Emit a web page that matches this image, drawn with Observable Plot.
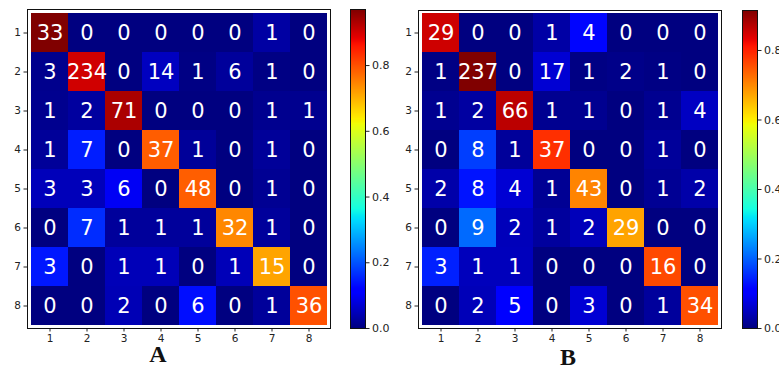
<!DOCTYPE html>
<html>
<head>
<meta charset="utf-8">
<script src="https://cdn.jsdelivr.net/npm/d3@7"></script>
<script src="https://cdn.jsdelivr.net/npm/@observablehq/plot@0.6"></script>
<style>
  html, body { margin: 0; padding: 0; background: #fff; overflow: hidden; }
  #root { position: relative; width: 779px; height: 373px; overflow: hidden; background: #fff; }
  .panel { position: absolute; top: 0; }
  .panel svg { max-width: none !important; }
  .tag { position: absolute; font-family: "Liberation Serif", "DejaVu Serif", serif; font-weight: bold; font-size: 24px; line-height: 24px; color: #111; transform: translateX(-50%); }
</style>
</head>
<body>
<div id="root"></div>
<script>
const labels = [1, 2, 3, 4, 5, 6, 7, 8];
const colorbarTicks = [0, 0.2, 0.4, 0.6, 0.8];
const panelTags = ["A", "B"];

const countsA = [
  [33, 0, 0, 0, 0, 0, 1, 0],
  [3, 234, 0, 14, 1, 6, 1, 0],
  [1, 2, 71, 0, 0, 0, 1, 1],
  [1, 7, 0, 37, 1, 0, 1, 0],
  [3, 3, 6, 0, 48, 0, 1, 0],
  [0, 7, 1, 1, 1, 32, 1, 0],
  [3, 0, 1, 1, 0, 1, 15, 0],
  [0, 0, 2, 0, 6, 0, 1, 36]
];
const countsB = [
  [29, 0, 0, 1, 4, 0, 0, 0],
  [1, 237, 0, 17, 1, 2, 1, 0],
  [1, 2, 66, 1, 1, 0, 1, 4],
  [0, 8, 1, 37, 0, 0, 1, 0],
  [2, 8, 4, 1, 43, 0, 1, 2],
  [0, 9, 2, 1, 2, 29, 0, 0],
  [3, 1, 1, 0, 0, 0, 16, 0],
  [0, 2, 5, 0, 3, 0, 1, 34]
];

// matplotlib "jet" colormap
function seg(t, pts) {
  for (let i = 1; i < pts.length; i++) {
    if (t <= pts[i][0]) {
      const [t0, v0] = pts[i - 1], [t1, v1] = pts[i];
      return v0 + (v1 - v0) * (t - t0) / (t1 - t0);
    }
  }
  return pts[pts.length - 1][1];
}
function jet(t) {
  t = Math.max(0, Math.min(1, t));
  const r = seg(t, [[0, 0], [0.35, 0], [0.66, 1], [0.89, 1], [1, 0.5]]);
  const g = seg(t, [[0, 0], [0.125, 0], [0.375, 1], [0.64, 1], [0.91, 0], [1, 0]]);
  const b = seg(t, [[0, 0.5], [0.11, 1], [0.34, 1], [0.65, 0], [1, 0]]);
  return `rgb(${Math.round(r * 255)},${Math.round(g * 255)},${Math.round(b * 255)})`;
}

function cells(counts) {
  return counts.flatMap((row, i) => {
    const s = d3.sum(row);
    return row.map((v, j) => ({actual: labels[i], predicted: labels[j], count: v, rate: v / s}));
  });
}

const style = {fontFamily: "DejaVu Sans, sans-serif", fontSize: "10.5px", color: "#222", background: "transparent"};

function heatmap(counts, opts) {
  const data = cells(counts);
  const maxRate = d3.max(data, d => d.rate);
  const map = Plot.plot({
    width: opts.width, height: 360,
    marginLeft: opts.ml, marginRight: 10, marginTop: opts.mt, marginBottom: 32,
    style,
    x: {type: "band", domain: labels, padding: 0, label: null, tickSize: 3.5, tickPadding: 3},
    y: {type: "band", domain: labels, padding: 0, label: null, tickSize: 3.5, tickPadding: 3},
    color: {type: "linear", domain: [0, maxRate], interpolate: jet},
    marks: [
      Plot.cell(data, {x: "predicted", y: "actual", fill: "rate", inset: 0, shapeRendering: "crispEdges"}),
      Plot.text(data, {x: "predicted", y: "actual", text: "count", fill: "white", fontSize: 21}),
      Plot.frame({stroke: "#111"})
    ]
  });
  const bar = Plot.plot({
    width: 60, height: 360,
    marginLeft: 10, marginRight: 35, marginTop: opts.mt, marginBottom: 32,
    style: {...style, fontSize: "11px"},
    x: {domain: [0, 1], axis: null},
    y: {domain: [0, maxRate], axis: "right", ticks: colorbarTicks, tickFormat: d3.format(".1f"), label: null, tickSize: 3.5, tickPadding: 3},
    color: {type: "linear", domain: [0, maxRate], interpolate: jet},
    marks: [
      Plot.raster({x1: 0, x2: 1, y1: 0, y2: maxRate, width: 1, height: 256, fill: (x, y) => y, imageRendering: "auto"}),
      Plot.frame({stroke: "#111"})
    ]
  });
  return [map, bar];
}

const root = document.getElementById("root");
function place(el, left, top) {
  const d = document.createElement("div");
  d.className = "panel";
  d.style.left = left + "px";
  d.style.top = (top || 0) + "px";
  d.appendChild(el);
  root.appendChild(d);
}

const [mapA, barA] = heatmap(countsA, {width: 340, ml: 27, mt: 9});
place(mapA, 0);
place(barA, 340);
const [mapB, barB] = heatmap(countsB, {width: 341, ml: 28, mt: 10});
place(mapB, 390);
place(barB, 732);

[[panelTags[0], 158, 342], [panelTags[1], 568, 345]].forEach(([t, x, y]) => {
  const d = document.createElement("div");
  d.className = "tag";
  d.textContent = t;
  d.style.left = x + "px";
  d.style.top = y + "px";
  root.appendChild(d);
});
</script>
</body>
</html>
